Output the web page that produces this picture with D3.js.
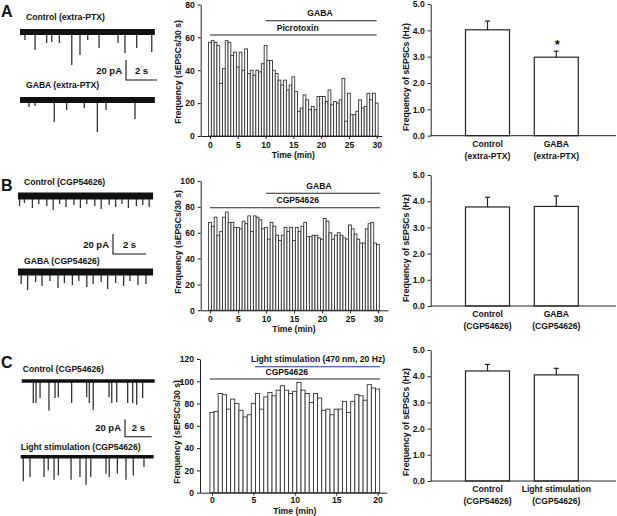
<!DOCTYPE html>
<html><head><meta charset="utf-8">
<script src="https://cdn.jsdelivr.net/npm/d3@7"></script>
<style>
body{margin:0;background:#fff}
svg{display:block}
text{font-family:"Liberation Sans",Arial,sans-serif;font-weight:bold;fill:#111}
</style>
</head><body>
<svg id="c" width="617" height="516"></svg>
<script>
// ---------------- DATA ----------------
// Histograms: events per 30 s bin (0.5 min bins)
const histA = [57,58,57,55,32,41,58,57,49,51,42,51,40,53,38,40,37,40,39,44,55,46,46,40,38,34,31,34,28,31,36,27,15,17,25,22,16,18,16,24,24,24,21,28,19,21,20,22,35,9,26,13,13,15,22,17,18,26,22,26,20];
const histB = [68,65,72,58,61,72,76,68,68,64,64,63,69,67,73,61,73,72,70,63,64,55,68,65,58,54,58,64,61,64,54,64,61,65,68,57,57,58,58,56,55,71,69,60,55,58,60,58,56,55,66,63,59,55,52,52,63,67,68,52,51];
const histC = [72,73,89,88,75,84,80,74,68,70,80,89,75,86,90,87,92,96,92,89,91,99,92,89,81,89,85,74,75,70,75,75,82,72,82,88,87,83,97,94,93];
const binMin = 0.5;
const histTicksAB = [0,5,10,15,20,25,30];
const histTicksC = [0,5,10,15,20];
const yTicksA = [0,20,40,60,80];
const yTicksB = [0,20,40,60,80,100];
const yTicksC = [0,20,40,60,80,100,120];
// treatment periods (min)
const periodsA = [{label:"GABA", t:[10,30], color:"#222"},{label:"Picrotoxin", t:[0,30], color:"#222"}];
const periodsB = [{label:"GABA", t:[10,30.4], color:"#222"},{label:"CGP54626", t:[0,30.4], color:"#222"}];
const periodsC = [{label:"Light stimulation (470 nm, 20 Hz)", t:[5.2,20.3], color:"#2233bb"},{label:"CGP54626", t:[-0.25,20.3], color:"#222"}];

// Summary bar charts (Hz): mean and SEM
const catsA = [["Control","(extra-PTX)"],["GABA","(extra-PTX)"]];
const meanA = [4.02, 2.98];
const semA  = [0.33, 0.23];
const catsB = [["Control","(CGP54626)"],["GABA","(CGP54626)"]];
const meanB = [3.78, 3.80];
const semB  = [0.37, 0.40];
const catsC = [["Control","(CGP54626)"],["Light stimulation","(CGP54626)"]];
const meanC = [4.20, 4.05];
const semC  = [0.25, 0.25];
const barTicks = [0,1,2,3,4,5];
const sigA = ["", "*"];

// Traces: spontaneous EPSC events [time (s), amplitude (pA)]
const evA1 = [[0.32,8],[0.97,18],[1.72,11],[2.05,10],[2.54,11],[3.34,33],[3.87,23],[4.37,8],[5.10,16],[6.32,11],[6.77,21],[7.53,16],[8.50,20]];
const evA2 = [[0.58,7],[0.97,6],[2.21,22],[3.01,10],[4.15,8],[4.99,32],[5.55,10],[7.42,19]];
const evB1 = [[0.1,10],[0.4,7],[0.9,12],[1.3,8],[1.8,10],[2.2,14],[2.6,8],[3.0,11],[3.5,9],[3.9,12],[4.3,8],[4.8,10],[5.2,13],[5.7,9],[6.1,11],[6.5,8],[6.9,12],[7.4,10],[7.8,9],[8.2,11]];
const evB2 = [[0.2,12],[0.6,18],[1.1,10],[1.5,14],[2.0,9],[2.5,16],[2.9,11],[3.4,13],[3.8,9],[4.3,15],[4.7,12],[5.2,10],[5.6,17],[6.1,11],[6.6,14],[7.0,9],[7.5,13],[8.0,12]];
const evC1 = [[0.86,26],[1.06,26],[1.36,20],[2.02,35],[2.47,20],[2.71,19],[3.70,26],[4.81,19],[5.01,26],[5.30,34],[6.47,19],[6.67,26],[7.04,25],[7.85,26],[8.22,26],[8.52,28],[8.96,20]];
const evC2 = [[0.19,29],[0.69,24],[1.73,24],[2.04,16],[2.47,27],[2.79,22],[3.73,27],[4.39,24],[4.84,33],[5.19,24],[6.32,20],[6.56,24],[7.16,20],[7.80,27],[8.34,22],[9.13,12]];

// ---------------- DRAW ----------------
const svg = d3.select("#c");
const FS = 8.6;

function panelLetter(txt, x, y){
  svg.append("text").attr("x",x).attr("y",y).attr("font-size",16).text(txt);
}

function histogram(vals, o){
  const g = svg.append("g");
  const x = d3.scaleLinear().domain(o.xDom).range(o.xRange);
  const y = d3.scaleLinear().domain([0,o.yMax]).range([o.y0,o.yTop]);
  const times = vals.map((v,i)=>i*binMin);
  const w = x(binMin)-x(0);
  g.selectAll("rect").data(vals).join("rect")
    .attr("x",(d,i)=>x(times[i])-w/2).attr("width",w)
    .attr("y",d=>y(d)).attr("height",d=>y(0)-y(d))
    .attr("fill","#fff").attr("stroke","#333").attr("stroke-width",0.9);
  const ax = g.append("g").attr("transform",`translate(0,${o.y0})`)
    .call(d3.axisBottom(x).tickValues(o.xTicks).tickSize(3).tickPadding(o.tickPad).tickSizeOuter(0));
  const ay = g.append("g").attr("transform",`translate(${o.xRange[0]},0)`)
    .call(d3.axisLeft(y).tickValues(o.yTicks).tickSize(3).tickSizeOuter(0));
  [ax,ay].forEach(a=>{
    a.selectAll("path,line").attr("stroke","#222").attr("stroke-width",1);
    a.selectAll("text").attr("font-size",FS).attr("font-family","Liberation Sans, Arial").attr("font-weight","bold").attr("fill","#111");
  });
  g.append("text").attr("x",(x(0)+x(o.xTicks[o.xTicks.length-1]))/2).attr("y",o.y0+o.timeDy)
    .attr("text-anchor","middle").attr("font-size",FS).text("Time (min)");
  g.append("text").attr("transform",`translate(${o.xRange[0]-20},${o.ylabY}) rotate(-90)`)
    .attr("text-anchor","middle").attr("font-size",FS).text("Frequency (sEPSCs/30 s)");
  o.periods.forEach((p,i)=>{
    const ly = o.lineY[i];
    g.append("line").attr("x1",x(p.t[0])).attr("x2",x(p.t[1])).attr("y1",ly).attr("y2",ly)
      .attr("stroke",p.color).attr("stroke-width",1.1);
    g.append("text").attr("x",o.labelX[i]).attr("y",ly-4.5).attr("text-anchor","middle")
      .attr("font-size",FS).text(p.label);
  });
}

histogram(histA,{xDom:[-1.67,30.9],xRange:[200.7,381.7],y0:136,yTop:4.5,yMax:80,xTicks:histTicksAB,yTicks:yTicksA,
  ylabY:72,periods:periodsA,lineY:[20.7,35],labelX:[320,297.7],timeDy:22,tickPad:3});
histogram(histB,{xDom:[-1.66,31.8],xRange:[200.7,388],y0:310.3,yTop:181,yMax:100,xTicks:histTicksAB,yTicks:yTicksB,
  ylabY:242,periods:periodsB,lineY:[193.3,207.7],labelX:[319,297.7],timeDy:22,tickPad:3});
histogram(histC,{xDom:[-1.45,21.1],xRange:[200,386.7],y0:492.7,yTop:359,yMax:120,xTicks:histTicksC,yTicks:yTicksC,
  ylabY:432,periods:periodsC,lineY:[366.7,379],labelX:[318,286.7],timeDy:20.8,tickPad:1.5});

function barChart(cats, means, sems, o){
  const g = svg.append("g");
  const keys = cats.map(c=>c.join(" "));
  const x = d3.scalePoint().domain(keys).range([487.5,556.3]);
  const y = d3.scaleLinear().domain([0,5]).range([o.y0,o.yTop]);
  const bw = 44;
  g.selectAll("rect").data(means).join("rect")
    .attr("x",(d,i)=>x(keys[i])-bw/2).attr("width",bw)
    .attr("y",d=>y(d)).attr("height",d=>y(0)-y(d))
    .attr("fill","#fff").attr("stroke","#222").attr("stroke-width",1.2);
  means.forEach((m,i)=>{
    const cx = x(keys[i]);
    g.append("line").attr("x1",cx).attr("x2",cx).attr("y1",y(m)).attr("y2",y(m+sems[i])).attr("stroke","#222").attr("stroke-width",1.2);
    g.append("line").attr("x1",cx-2.5).attr("x2",cx+2.5).attr("y1",y(m+sems[i])).attr("y2",y(m+sems[i])).attr("stroke","#222").attr("stroke-width",1.2);
    if(o.sig && o.sig[i]) g.append("text").attr("x",cx+1).attr("y",y(m+sems[i])-2).attr("text-anchor","middle").attr("font-size",13).text(o.sig[i]);
    cats[i].forEach((line,j)=>{
      g.append("text").attr("x",cx).attr("y",o.y0+11+j*12.3).attr("text-anchor","middle").attr("font-size",FS).text(line);
    });
  });
  g.append("line").attr("x1",430.7).attr("x2",616).attr("y1",o.y0).attr("y2",o.y0).attr("stroke","#222").attr("stroke-width",1);
  const ay = g.append("g").attr("transform","translate(430.7,0)")
    .call(d3.axisLeft(y).tickValues(barTicks).tickFormat(d3.format(".1f")).tickSize(3).tickSizeOuter(0));
  ay.selectAll("path,line").attr("stroke","#222");
  ay.selectAll("text").attr("font-size",FS).attr("font-family","Liberation Sans, Arial").attr("font-weight","bold").attr("fill","#111");
  g.append("text").attr("transform",`translate(409,${o.ylabY}) rotate(-90)`).attr("text-anchor","middle")
    .attr("font-size",FS).text("Frequency of sEPSCs (Hz)");
}
barChart(catsA,meanA,semA,{y0:135.7,yTop:4,ylabY:77,sig:sigA});
barChart(catsB,meanB,semB,{y0:306,yTop:175,ylabY:248});
barChart(catsC,meanC,semC,{y0:481,yTop:350,ylabY:422});

function trace(ev, o){
  const g = svg.append("g");
  const t = d3.scaleLinear().domain([0,o.dur]).range([o.x0,o.x0+o.dur*o.pps]);
  const a = d3.scaleLinear().domain([0,20]).range([o.y,o.y+20*o.ppa]);
  g.selectAll("line.sp").data(ev).join("line").attr("class","sp")
    .attr("x1",d=>t(d[0])).attr("x2",d=>t(d[0])).attr("y1",o.y).attr("y2",d=>a(d[1]))
    .attr("stroke","#333").attr("stroke-width",1.3);
  g.append("line").attr("x1",t(0)).attr("x2",t(o.dur)).attr("y1",o.y).attr("y2",o.y)
    .attr("stroke","#111").attr("stroke-width",o.band);
  g.append("text").attr("x",o.x0+o.lx).attr("y",o.y-o.ly).attr("font-size",FS).text(o.label);
}
function scaleBar(o){
  svg.append("path").attr("d",`M${o.x},${o.y0}V${o.y1}H${o.x2}`).attr("fill","none").attr("stroke","#111").attr("stroke-width",1.1);
  svg.append("text").attr("x",o.x-4).attr("y",o.ty).attr("text-anchor","end").attr("font-size",9.5).text("20 pA");
  svg.append("text").attr("x",o.x+(o.x2-o.x)/2).attr("y",o.ty).attr("text-anchor","middle").attr("font-size",9.5).text("2 s");
}

panelLetter("A",1,17);
trace(evA1,{x0:20,dur:8.7,pps:15.5,ppa:1,y:32,band:6,label:"Control (extra-PTX)",lx:6,ly:12});
trace(evA2,{x0:20,dur:8.7,pps:15.5,ppa:1,y:100,band:6,label:"GABA (extra-PTX)",lx:6,ly:12});
scaleBar({x:126,y0:60,y1:80,x2:157,ty:74});

panelLetter("B",1,191);
trace(evB1,{x0:18,dur:8.44,pps:16,ppa:1,y:196,band:7,label:"Control (CGP54626)",lx:6,ly:11});
trace(evB2,{x0:18,dur:8.44,pps:16,ppa:1,y:272,band:7,label:"GABA (CGP54626)",lx:6,ly:8});
scaleBar({x:113,y0:234,y1:254,x2:146,ty:248});

panelLetter("C",1,368);
trace(evC1,{x0:21.7,dur:9.85,pps:13.5,ppa:0.85,y:381,band:3.5,label:"Control (CGP54626)",lx:1,ly:9});
trace(evC2,{x0:20.7,dur:9.85,pps:13.5,ppa:0.85,y:456.7,band:3.5,label:"Light stimulation (CGP54626)",lx:0,ly:7});
scaleBar({x:125,y0:419.3,y1:436.7,x2:151.7,ty:431});
</script>
</body></html>
